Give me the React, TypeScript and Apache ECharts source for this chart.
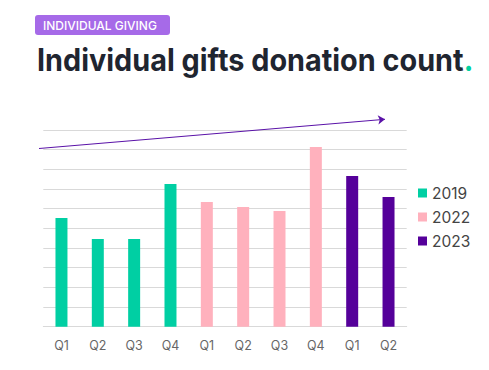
import React, { useEffect, useRef } from "react";
import * as echarts from "echarts";

const categories = ["Q1", "Q2", "Q3", "Q4", "Q1", "Q2", "Q3", "Q4", "Q1", "Q2"];
const years = ["2019", "2022", "2023"];
const values2019 = [5.53, 4.46, 4.46, 7.25, "-", "-", "-", "-", "-", "-"];
const values2022 = ["-", "-", "-", "-", 6.34, 6.08, 5.88, 9.13, "-", "-"];
const values2023 = ["-", "-", "-", "-", "-", "-", "-", "-", 7.66, 6.59];
const colors = ["#00CFA3", "#FFB1BD", "#55009A"];

export default function App() {
  const ref = useRef<HTMLDivElement>(null);
  useEffect(() => {
    if (!ref.current) return;
    const chart = echarts.init(ref.current, undefined, { renderer: "svg" });
    const seriesData = [values2019, values2022, values2023];
    chart.setOption({
      animation: false,
      color: colors,
      grid: { left: 43.3, right: 82.3, top: 130, bottom: 43.3, containLabel: false },
      xAxis: {
        type: "category",
        data: categories,
        axisLine: { lineStyle: { color: "#d9d9d9" } },
        axisTick: { show: false },
        axisLabel: { color: "#666", fontSize: 12.5, fontFamily: "Inter", margin: 12 },
      },
      yAxis: {
        type: "value",
        min: 0,
        max: 10,
        interval: 1,
        axisLabel: { show: false },
        axisLine: { show: false },
        axisTick: { show: false },
        splitLine: { lineStyle: { color: "#d9d9d9", width: 1 } },
      },
      legend: {
        orient: "vertical",
        left: 413,
        top: 180,
        itemWidth: 9,
        itemHeight: 9,
        itemGap: 8,
        icon: "rect",
        textStyle: { color: "#444", fontSize: 15.5, fontFamily: "Inter" },
        data: years,
      },
      series: years.map((y, i) => ({
        name: y,
        type: "bar",
        stack: "all",
        barWidth: "33%",
        data: seriesData[i],
        itemStyle: { color: colors[i] },
        markLine:
          i === 0
            ? {
                silent: true,
                symbol: ["none", "arrow"],
                symbolSize: [7, 7],
                label: { show: false },
                lineStyle: { color: "#5A12A8", width: 1, type: "solid" },
                data: [[{ x: 39, y: 148.5 }, { x: 385, y: 119.3 }]],
              }
            : undefined,
      })),
      graphic: [
        {
          type: "rect",
          left: 35,
          top: 15,
          shape: { width: 135, height: 20, r: 3 },
          style: { fill: "#A66AE8" },
        },
        {
          type: "text",
          x: 43,
          y: 25,
          style: {
            text: "INDIVIDUAL GIVING",
            fill: "#fff",
            font: "500 12px Inter",
            verticalAlign: "middle",
          },
        },
        {
          type: "text",
          x: 37,
          y: 59.5,
          scaleX: 0.93,
          style: {
            text: "{a|Individual gifts donation count}{b|.}",
            verticalAlign: "middle",
            rich: {
              a: { fontFamily: "Inter", fontWeight: 700, fontSize: 31, fill: "#1F2530" },
              b: { fontFamily: "Inter", fontWeight: 700, fontSize: 31, fill: "#00D1A0" },
            },
          },
        },
      ],
    });
    return () => chart.dispose();
  }, []);
  return <div ref={ref} style={{ width: 489, height: 370, margin: -8 }} />;
}
